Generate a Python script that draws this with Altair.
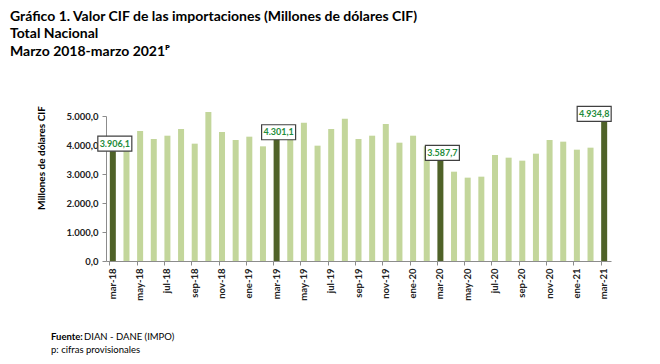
import altair as alt
import pandas as pd

months = ["mar-18","abr-18","may-18","jun-18","jul-18","ago-18","sep-18","oct-18","nov-18","dic-18",
          "ene-19","feb-19","mar-19","abr-19","may-19","jun-19","jul-19","ago-19","sep-19","oct-19",
          "nov-19","dic-19","ene-20","feb-20","mar-20","abr-20","may-20","jun-20","jul-20","ago-20",
          "sep-20","oct-20","nov-20","dic-20","ene-21","feb-21","mar-21"]
values = [3906.1, 4207, 4483, 4207, 4321, 4552, 4046, 5138, 4448, 4172,
          4287, 3954, 4301.1, 4450, 4770, 3977, 4552, 4907, 4207, 4321,
          4724, 4080, 4321, 3954, 3587.7, 3080, 2874, 2908, 3655, 3563,
          3460, 3701, 4172, 4115, 3839, 3908, 4934.8]
highlight = ["mar-18", "mar-19", "mar-20", "mar-21"]
tick_labels = months[::2]
y_ticks = [0, 1000, 2000, 3000, 4000, 5000]

title_lines = ["Gráfico 1. Valor CIF de las importaciones (Millones de dólares CIF)",
               "Total Nacional",
               "Marzo 2018-marzo 2021ᴾ"]
y_title = "Millones de dólares CIF"
source_bold = "Fuente:"
source_text = "DIAN - DANE (IMPO)"
note_text = "p: cifras provisionales"

FONT = "Lato"
NUMFMT = "replace(replace(replace(format({v}, ',.1f'), ',', 'X'), '.', ','), 'X', '.')"

df = pd.DataFrame({"mes": months, "valor": values})
df["tipo"] = ["marzo" if m in highlight else "otro" for m in months]

xscale = alt.Scale(domain=months, paddingInner=0.56, paddingOuter=0.28)
yscale = alt.Scale(domain=[0, 5000], nice=False)

base = alt.Chart(df).encode(
    x=alt.X("mes:N", scale=xscale, sort=months,
            axis=alt.Axis(values=tick_labels, title=None, labelAngle=-90, bandPosition=0,
                          labelFont=FONT, labelFontWeight="bold", labelFontSize=9.5,
                          labelColor="#222222", labelPadding=3, tickSize=4,
                          tickColor="#8c8c8c", domainColor="#8c8c8c", grid=False)),
    y=alt.Y("valor:Q", scale=yscale,
            axis=alt.Axis(values=y_ticks, title=None, grid=False,
                          labelExpr=NUMFMT.format(v="datum.value"),
                          labelFont=FONT, labelFontWeight="bold", labelFontSize=9.5,
                          labelColor="#222222", labelPadding=4, tickSize=4,
                          tickColor="#8c8c8c", domainColor="#8c8c8c")),
)

bars = base.mark_bar().encode(
    color=alt.Color("tipo:N", scale=alt.Scale(domain=["marzo", "otro"], range=["#4F6228", "#C3D69B"]),
                    legend=None)
)

lab = base.transform_filter(alt.FieldOneOfPredicate(field="mes", oneOf=highlight)).transform_calculate(
    txt=NUMFMT.format(v="datum.valor")
)
lab_main = lab.transform_filter(alt.datum.mes != "mar-21")
lab_last = lab.transform_filter(alt.datum.mes == "mar-21")

BOXW, BOXH = 34, 15
box_main = lab_main.mark_rect(width=BOXW, height=BOXH, fill="white", stroke="#404040", strokeWidth=1.2,
                              yOffset=-4, xOffset=2)
txt_main = lab_main.mark_text(font=FONT, fontWeight="bold", fontSize=9, color="#1E8C3A",
                              baseline="middle", align="center", yOffset=-4, dx=2).encode(text="txt:N")
box_last = lab_last.mark_rect(width=BOXW, height=BOXH, fill="white", stroke="#404040", strokeWidth=1.2,
                              yOffset=-4, xOffset=-10)
txt_last = lab_last.mark_text(font=FONT, fontWeight="bold", fontSize=9, color="#1E8C3A",
                              baseline="middle", align="center", yOffset=-4, dx=-10).encode(text="txt:N")

title_layers = []
for i, ypx in enumerate([-95, -78, -60]):
    title_layers.append(
        alt.Chart(pd.DataFrame({"t": [title_lines[i]]})).mark_text(
            font=FONT, fontWeight="bold", fontSize=14, align="left", baseline="alphabetic", color="#000000"
        ).encode(text="t:N", x=alt.value(-96), y=alt.value(ypx))
    )

ytitle = alt.Chart(pd.DataFrame({"t": [y_title]})).mark_text(
    font=FONT, fontWeight="bold", fontSize=10, angle=270, align="center", baseline="middle", color="#000000"
).encode(text="t:N", x=alt.value(-64), y=alt.value(42))

src1 = alt.Chart(pd.DataFrame({"t": [source_bold]})).mark_text(
    font=FONT, fontWeight="bold", fontSize=9.5, align="left", baseline="alphabetic", color="#000000"
).encode(text="t:N", x=alt.value(-55), y=alt.value(224))
src2 = alt.Chart(pd.DataFrame({"t": [source_text]})).mark_text(
    font=FONT, fontSize=9.5, align="left", baseline="alphabetic", color="#000000"
).encode(text="t:N", x=alt.value(-22), y=alt.value(224))
note = alt.Chart(pd.DataFrame({"t": [note_text]})).mark_text(
    font=FONT, fontSize=9.5, align="left", baseline="alphabetic", color="#000000"
).encode(text="t:N", x=alt.value(-55), y=alt.value(237))

chart = alt.layer(bars, box_main, txt_main, box_last, txt_last, ytitle, src1, src2, note, *title_layers).properties(
    width=505, height=145,
    autosize=alt.AutoSizeParams(type="none"),
    padding={"left": 98, "top": 108, "right": 35, "bottom": 98},
    background="white",
).configure_view(stroke=None)

chart.save("out.html", embed_options={"renderer": "svg", "actions": False})
